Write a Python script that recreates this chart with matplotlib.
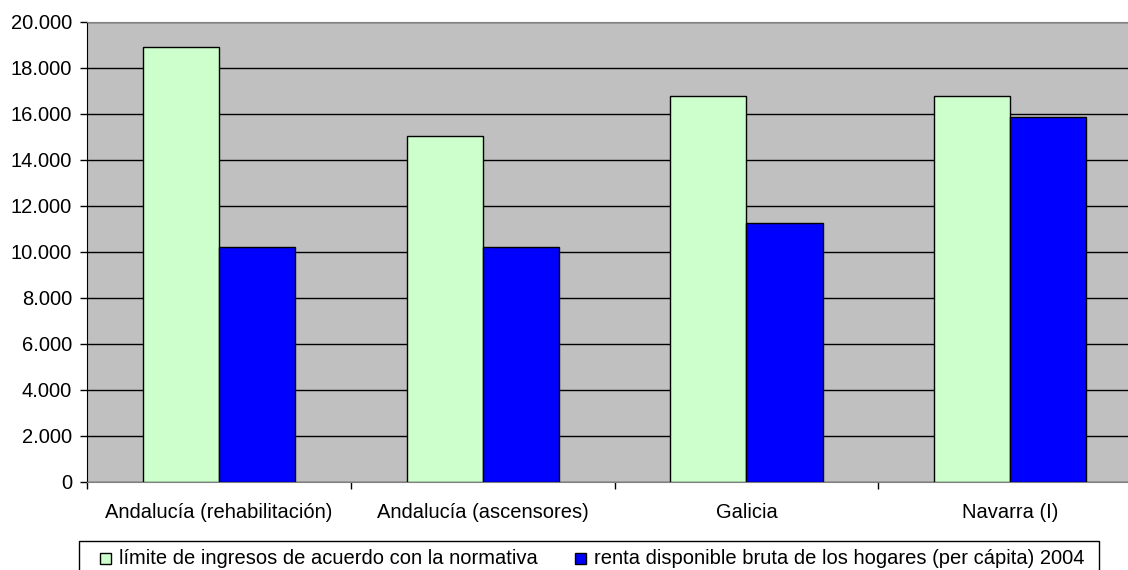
import numpy as np
import matplotlib.pyplot as plt
from matplotlib.patches import Rectangle
from matplotlib.ticker import FuncFormatter
from matplotlib.transforms import blended_transform_factory

categorias = ['Andalucía (rehabilitación)', 'Andalucía (ascensores)', 'Galicia', 'Navarra (I)']
limite_ingresos = [18900, 15020, 16770, 16770]
renta_disponible = [10190, 10190, 11240, 15860]
nombres_series = ['límite de ingresos de acuerdo con la normativa',
                  'renta disponible bruta de los hogares (per cápita) 2004']
colores = ['#ccffcc', '#0000ff']

plt.rcParams['font.family'] = ['Liberation Sans', 'DejaVu Sans']
fs = 14.5

W, H = 1128, 570
fig = plt.figure(figsize=(W / 100, H / 100), dpi=100)
# el área de gráfico sigue más allá del borde derecho de la imagen
ax = fig.add_axes([87.3 / W, 1 - 481.7 / H, (1142 - 87.3) / W, (481.7 - 21.7) / H])
ax.set_facecolor('#c0c0c0')

x = np.arange(len(categorias))
ancho = 0.2885
ax.bar(x - ancho / 2, limite_ingresos, ancho, color=colores[0], edgecolor='black', linewidth=1, zorder=3)
ax.bar(x + ancho / 2, renta_disponible, ancho, color=colores[1], edgecolor='black', linewidth=1, zorder=3)

ax.set_xlim(-0.5, len(categorias) - 0.5)
ax.set_ylim(0, 20000)
ax.set_yticks(range(0, 20001, 2000))
ax.yaxis.set_major_formatter(FuncFormatter(lambda v, p: f'{int(v):,}'.replace(',', '.')))
ax.grid(axis='y', color='black', linewidth=1, zorder=1)

ax.set_xticks(np.arange(-0.5, len(categorias), 1))
ax.set_xticklabels([])
ax.tick_params(axis='x', length=5, width=1, direction='out')
ax.tick_params(axis='y', length=5, width=1, direction='out', labelsize=fs, pad=6)

# etiquetas de categoría
tr = blended_transform_factory(ax.transData, fig.transFigure)
for xi, cat in zip(x, categorias):
    ax.text(xi, 1 - 513 / H, cat, transform=tr, ha='center', va='center', fontsize=fs)

for lado in ['top', 'right']:
    ax.spines[lado].set_color('#808080')
ax.spines['left'].set_color('black')
ax.spines['bottom'].set_color('#808080')

# leyenda en caja, cortada por el borde inferior
fig.patches.append(Rectangle((79 / W, -0.05), (1099 - 79) / W, 0.05 + 1 - 540.5 / H,
                             transform=fig.transFigure, facecolor='white', edgecolor='black',
                             linewidth=1))
pos_x = [100, 575]
for px, col, nombre in zip(pos_x, colores, nombres_series):
    fig.patches.append(Rectangle((px / W, 1 - 564 / H), 11 / W, 11 / H, transform=fig.transFigure,
                                 facecolor=col, edgecolor='black', linewidth=1))
    fig.text((px + 19) / W, 1 - 558 / H, nombre, fontsize=fs, va='center', ha='left')

fig.savefig('out.png', dpi=100)
